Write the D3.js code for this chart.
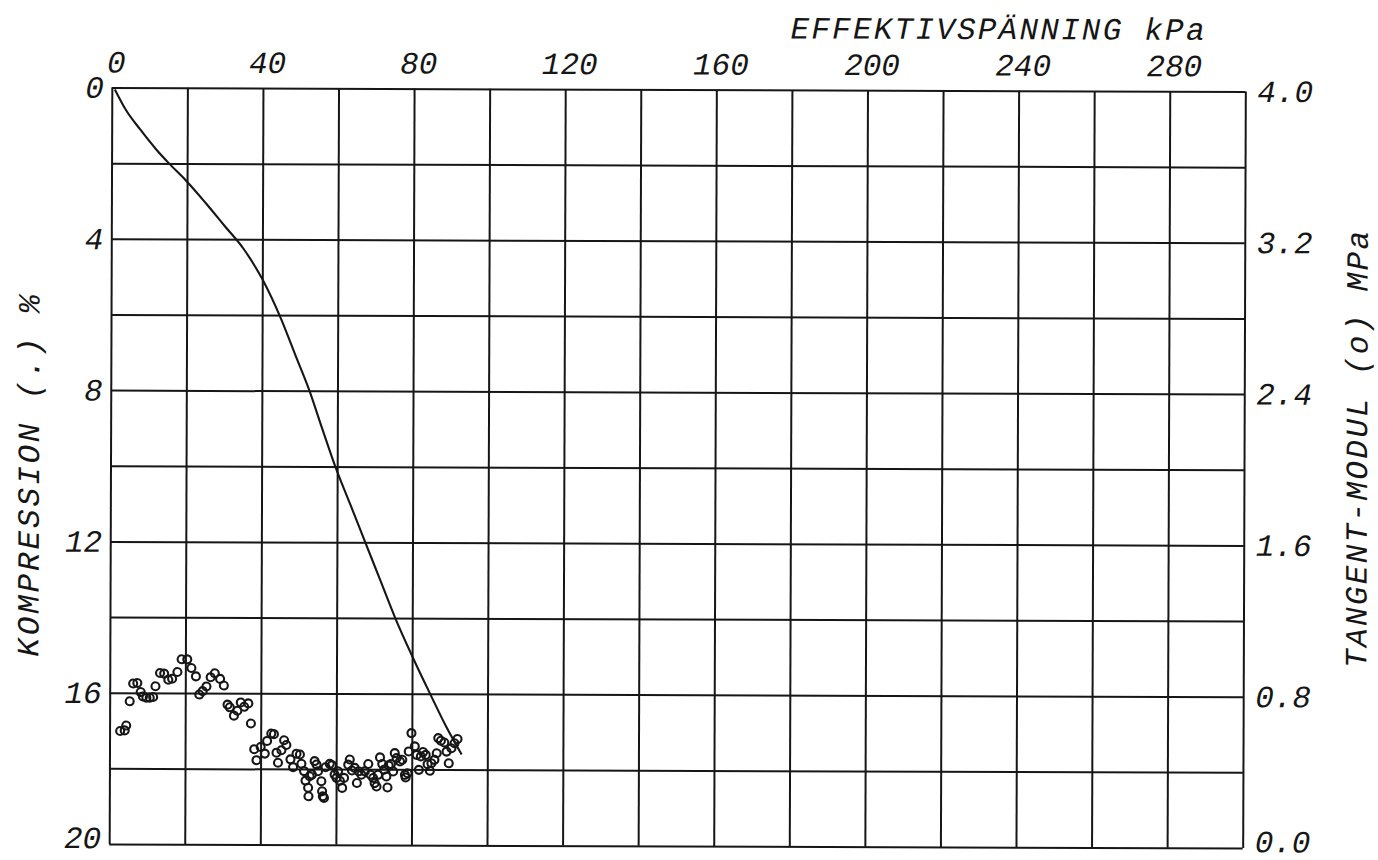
<!DOCTYPE html>
<html>
<head>
<meta charset="utf-8">
<script src="https://cdn.jsdelivr.net/npm/d3@7"></script>
<style>
  html, body { margin: 0; padding: 0; background: #fff; }
  svg { display: block; }
  .lbl { font-family: "Liberation Mono", "DejaVu Sans Mono", monospace; font-style: italic; fill: #161616; }
</style>
</head>
<body>
<svg id="chart" width="1378" height="860"></svg>
<script>
// Oedometer test: compression (line, left axis) and tangent modulus (circles, right axis)
// against effective stress.

// Compression curve
const compStress = [0.8, 3.8, 7.5, 11.7, 15.2, 19.7, 25.0, 30.0, 35.0, 40.0, 45.0, 48.8, 52.6,
                    56.0, 59.5, 63.5, 67.5, 71.5, 75.5, 80.0, 84.8, 89.0, 93.2];
const compPct    = [0.05, 0.6, 1.1, 1.62, 2.0, 2.45, 3.05, 3.65, 4.25, 5.05, 6.1, 7.05, 8.0,
                    9.0, 10.0, 11.0, 12.0, 13.0, 14.0, 15.0, 16.0, 16.85, 17.6];

// Tangent modulus points
const modStress = [2.8, 4.0, 4.4, 5.3, 6.2, 7.3, 8.2, 8.8, 9.7, 10.6, 11.5, 12.1, 13.3, 14.4, 15.5,
  16.5, 17.9, 19.0, 20.5, 21.6, 22.8, 23.7, 24.6, 25.6, 26.7, 27.8, 29.2, 30.2, 31.2, 31.8,
  32.9, 33.8, 34.7, 35.6, 36.7, 37.4, 38.3, 38.9, 40.0, 41.1, 41.7, 42.8, 43.5, 44.2, 44.6,
  45.5, 46.2, 46.8, 47.9, 48.6, 49.5, 50.4, 50.8, 51.5, 51.9, 52.6, 52.7, 53.0, 53.6,
  54.3, 54.8, 55.2, 56.1, 56.3, 56.5, 56.8, 57.2, 58.3, 58.9, 59.6, 60.1, 60.5, 61.0, 61.6,
  62.1, 63.2, 63.6, 64.2, 64.9, 65.5, 66.0, 66.7, 67.6, 68.5, 69.1, 69.8, 70.2, 70.7, 71.1,
  71.6, 72.2, 72.7, 73.3, 73.6, 73.9, 74.5, 75.1, 75.5, 76.0, 76.9, 77.5, 78.2, 78.4, 78.9,
  79.2, 79.9, 80.8, 81.3, 81.9, 82.4, 83.0, 83.7, 84.2, 84.8, 85.2, 86.0, 86.6, 87.0, 87.7,
  88.6, 89.2, 89.8, 90.5, 91.3, 92.1];
const modMPa = [0.598, 0.601, 0.627, 0.755, 0.849, 0.852, 0.804, 0.781, 0.774, 0.774, 0.778, 0.835,
  0.905, 0.902, 0.870, 0.875, 0.911, 0.978, 0.978, 0.932, 0.888, 0.792, 0.810, 0.835, 0.884,
  0.905, 0.875, 0.840, 0.739, 0.725, 0.681, 0.707, 0.751, 0.728, 0.746, 0.640, 0.504, 0.446,
  0.516, 0.481, 0.548, 0.587, 0.584, 0.486, 0.433, 0.499, 0.552, 0.527, 0.451, 0.410, 0.481,
  0.477, 0.428, 0.389, 0.339, 0.301, 0.256, 0.362, 0.371,
  0.442, 0.424, 0.389, 0.336, 0.283, 0.256, 0.248, 0.410, 0.428, 0.421, 0.371, 0.354, 0.389,
  0.339, 0.301, 0.354, 0.424, 0.451, 0.393, 0.407, 0.327, 0.389, 0.371, 0.389, 0.428, 0.371,
  0.354, 0.327, 0.309, 0.371, 0.463, 0.428, 0.398, 0.362, 0.304, 0.421, 0.428, 0.389, 0.486,
  0.460, 0.442, 0.451, 0.371, 0.357, 0.380, 0.495, 0.592, 0.522, 0.477, 0.398, 0.469, 0.492,
  0.477, 0.428, 0.393, 0.433, 0.451, 0.486, 0.566, 0.552, 0.543, 0.495, 0.433, 0.513, 0.539,
  0.562];

// Tick labels
const stressTicks = [0, 40, 80, 120, 160, 200, 240, 280];
const compTicks = [0, 4, 8, 12, 16, 20];
const modTicks = [0, 0.8, 1.6, 2.4, 3.2, 4.0];

const frame = { left: 110.5, right: 1244, top: 89.5, bottom: 846 };
const svg = d3.select("#chart");
const g = svg.append("g")
  .attr("transform", `rotate(0.2, ${(frame.left + frame.right) / 2}, ${(frame.top + frame.bottom) / 2})`);

const x = d3.scaleLinear().domain([0, 300]).range([frame.left, frame.right]);
const yComp = d3.scaleLinear().domain([0, 20]).range([frame.top, frame.bottom]);
const yMod = d3.scaleLinear().domain([0, 4]).range([frame.bottom, frame.top]);
const plotH = frame.bottom - frame.top, plotW = frame.right - frame.left;

const ink = "#161616";

// grid (every 20 kPa, every 2 %)
g.append("g")
  .attr("transform", `translate(0,${frame.bottom})`)
  .call(d3.axisBottom(x).tickValues(d3.range(0, 301, 20)).tickSize(-plotH).tickFormat(""))
  .call(a => a.select(".domain").remove())
  .call(a => a.selectAll("line").attr("stroke", ink).attr("stroke-width", 2));
g.append("g")
  .attr("transform", `translate(${frame.left},0)`)
  .call(d3.axisLeft(yComp).tickValues(d3.range(0, 20.01, 2)).tickSize(-plotW).tickFormat(""))
  .call(a => a.select(".domain").remove())
  .call(a => a.selectAll("line").attr("stroke", ink).attr("stroke-width", 2));

function styleLabels(a) {
  a.select(".domain").remove();
  a.selectAll("text").attr("class", "lbl").attr("font-size", 31).attr("fill", ink);
}

// stress labels along the top
g.append("g")
  .attr("transform", `translate(0,${frame.top})`)
  .call(d3.axisTop(x).tickValues(stressTicks).tickSize(0).tickPadding(15).tickFormat(d3.format("d")))
  .call(styleLabels)
  .call(a => a.selectAll("text").attr("dx", 4));

// compression labels (left); the lowest one sits a little higher to stay on the page
g.append("g")
  .attr("transform", `translate(${frame.left},0)`)
  .call(d3.axisLeft(yComp).tickValues(compTicks).tickSize(0).tickPadding(8).tickFormat(d3.format("d")))
  .call(styleLabels)
  .call(a => a.selectAll("text").filter(d => d === 20).attr("dy", "0.12em"));

// modulus labels (right)
g.append("g")
  .attr("transform", `translate(${frame.right},0)`)
  .call(d3.axisRight(yMod).tickValues(modTicks).tickSize(0).tickPadding(12).tickFormat(d3.format(".1f")))
  .call(styleLabels)
  .call(a => a.selectAll("text").filter(d => d === 0).attr("dy", "0.12em"));

// axis titles
g.append("text").attr("class", "lbl").attr("font-size", 31)
  .attr("x", 789).attr("y", 38)
  .attr("textLength", 414).attr("lengthAdjust", "spacing")
  .text("EFFEKTIVSPÄNNING kPa");
g.append("text").attr("class", "lbl").attr("font-size", 31)
  .attr("text-anchor", "middle")
  .attr("transform", "translate(39,478) rotate(-90)")
  .attr("textLength", 362).attr("lengthAdjust", "spacing")
  .text("KOMPRESSION (.) %");
g.append("text").attr("class", "lbl").attr("font-size", 31)
  .attr("text-anchor", "middle")
  .attr("transform", "translate(1367,447) rotate(-90)")
  .attr("textLength", 437).attr("lengthAdjust", "spacing")
  .text("TANGENT-MODUL (o) MPa");

// compression curve
const line = d3.line().curve(d3.curveMonotoneX)
  .x(i => x(compStress[i])).y(i => yComp(compPct[i]));
g.append("path")
  .attr("d", line(d3.range(compStress.length)))
  .attr("fill", "none").attr("stroke", ink).attr("stroke-width", 2.1)
  .attr("stroke-linejoin", "round");

// tangent modulus circles
g.append("g").selectAll("circle")
  .data(d3.range(modStress.length))
  .join("circle")
  .attr("cx", i => x(modStress[i]))
  .attr("cy", i => yMod(modMPa[i]))
  .attr("r", 4)
  .attr("fill", "none").attr("stroke", ink).attr("stroke-width", 2.1);
</script>
</body>
</html>
